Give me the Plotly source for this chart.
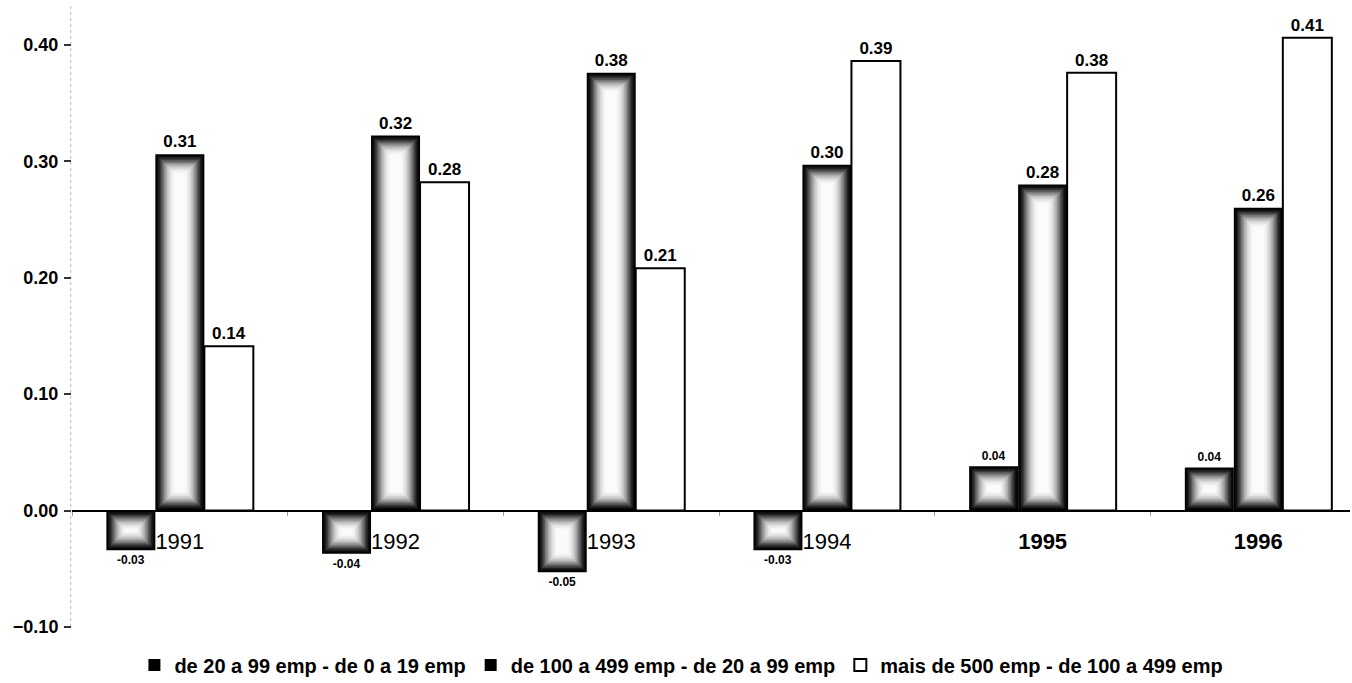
import plotly.graph_objects as go

# ---------------- data ----------------
years = ['1991', '1992', '1993', '1994', '1995', '1996']
serie_pequenas = [-0.034, -0.037, -0.053, -0.034, 0.038, 0.037]   # de 20 a 99 emp - de 0 a 19 emp
serie_medias = [0.306, 0.322, 0.376, 0.297, 0.280, 0.260]          # de 100 a 499 emp - de 20 a 99 emp
serie_grandes = [0.141, 0.282, 0.208, 0.386, 0.376, 0.406]         # mais de 500 emp - de 100 a 499 emp
series_names = ['de 20 a 99 emp - de 0 a 19 emp',
                'de 100 a 499 emp - de 20 a 99 emp',
                'mais de 500 emp - de 100 a 499 emp']
year_labels = ['1991', '1992', '1993', '1994', '<b>1995</b>', '<b>1996</b>']
y_tickvals = [-0.10, 0.00, 0.10, 0.20, 0.30, 0.40]

# ---------------- layout constants ----------------
FONT = 'Liberation Sans, Arial, sans-serif'
W, H = 1352, 683
M_L, M_R, M_T, M_B = 72, 2, 4, 56
PLOT_W = W - M_L - M_R
PLOT_H = H - M_T - M_B
Y_RANGE = [-0.10, 0.435]
X_RANGE = [-0.5, 5.425]
ux = (X_RANGE[1] - X_RANGE[0]) / PLOT_W   # category units per px
uy = (Y_RANGE[1] - Y_RANGE[0]) / PLOT_H   # data units per px
BAR_W = 49 * ux

fig = go.Figure()

gray_levels = [0, 12, 32, 58, 88, 118, 146, 172, 194, 212, 227, 238, 246, 251]
STEP = 1.45


def gradient_series(values, s_idx, name, small_text):
    center = (s_idx - 1) * BAR_W
    for k, g in enumerate(gray_levels):
        ins = k * STEP
        dx = ins * ux
        w = BAR_W - 2 * dx
        bases, lens = [], []
        for v in values:
            sign = 1 if v >= 0 else -1
            dy = min(ins * uy, abs(v) / 2 - uy)
            dy = max(dy, 0)
            bases.append(sign * dy)
            lens.append(v - 2 * sign * dy)
        kw = {}
        if k == 0:
            kw = dict(
                texttemplate='%{y:.2f}',
                textposition='outside',
                textfont=dict(family=FONT, color='black', weight='bold',
                              size=[12 if small_text else 17] * len(values)),
                cliponaxis=False,
            )
        fig.add_trace(go.Bar(
            x=years, y=lens, base=bases,
            offset=center - w / 2, width=w,
            marker=dict(color=f'rgb({g},{g},{g})', line=dict(width=0)),
            name=name, legendgroup=name, showlegend=(k == 0),
            hoverinfo='skip', **kw))


gradient_series(serie_pequenas, 0, series_names[0], True)
gradient_series(serie_medias, 1, series_names[1], False)

# white series
fig.add_trace(go.Bar(
    x=years, y=serie_grandes,
    offset=BAR_W / 2, width=BAR_W,
    marker=dict(color='white', line=dict(color='black', width=2)),
    name=series_names[2], legendgroup=series_names[2],
    texttemplate='%{y:.2f}', textposition='outside',
    textfont=dict(family=FONT, color='black', weight='bold', size=17),
    cliponaxis=False, hoverinfo='skip'))

zero_pos = (0 - Y_RANGE[0]) / (Y_RANGE[1] - Y_RANGE[0])

fig.update_layout(
    width=W, height=H,
    margin=dict(l=M_L, r=M_R, t=M_T, b=M_B, autoexpand=False),
    paper_bgcolor='white', plot_bgcolor='white',
    barmode='overlay',
    font=dict(family=FONT, color='black'),
    showlegend=True,
    legend=dict(orientation='h', xref='container', yref='container',
                x=0.504, xanchor='center', y=1 - 665 / H, yanchor='middle',
                font=dict(family=FONT, size=20, color='black', weight='bold'),
                itemwidth=30, traceorder='normal'),
    xaxis=dict(type='category', range=X_RANGE, anchor='free', position=zero_pos,
               automargin=False,
               showline=True, linecolor='black', linewidth=2,
               showgrid=False, zeroline=False,
               tickmode='array', tickvals=years, ticktext=year_labels,
               ticks='outside', tickson='boundaries', ticklen=4, tickcolor='#999999',
               tickfont=dict(family=FONT, size=22, color='black'),
               ticklabelstandoff=11),
    yaxis=dict(range=Y_RANGE, tickvals=y_tickvals, tickformat='.2f',
               automargin=False,
               showgrid=False, zeroline=False, showline=False,
               ticks='outside', ticklen=7, tickwidth=2, tickcolor='#333333',
               tickfont=dict(family=FONT, size=18, color='black', weight='bold'),
               ticklabelstandoff=2),
    shapes=[dict(type='line', xref='paper', yref='paper', x0=-0.001, x1=-0.001,
                 y0=0, y1=1, line=dict(color='#bbbbbb', width=1, dash='dot'),
                 layer='below')],
)

fig.write_html('out.html')
